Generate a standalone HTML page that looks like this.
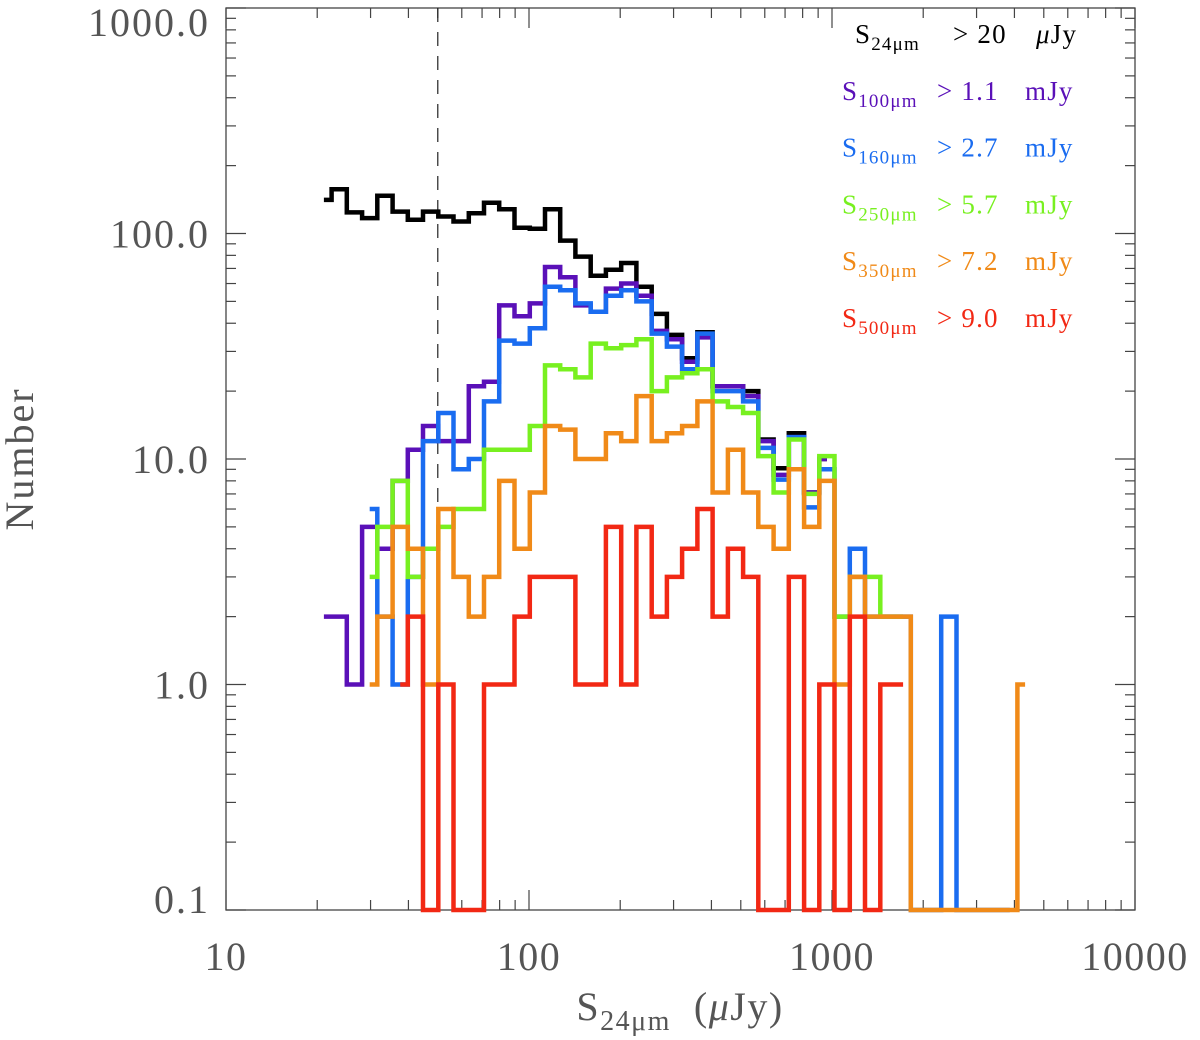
<!DOCTYPE html>
<html><head><meta charset="utf-8">
<style>
html,body{margin:0;padding:0;background:#fff;}
svg{display:block;}
text{font-family:"Liberation Serif",serif;}
</style></head>
<body>
<svg id="chart" width="1200" height="1040" viewBox="0 0 1200 1040" xmlns="http://www.w3.org/2000/svg">
<g id="axes"></g>
<g id="series"></g>
<g id="legend"></g>
</svg>
<script>
// ---- data ----
const binCenters = [21.05,23.64,26.54,29.80,33.46,37.57,42.18,47.36,53.18,59.71,67.04,75.27,84.52,94.90,106.6,119.6,134.3,150.8,169.3,190.1,213.5,239.7,269.1,302.2,339.3,380.9,427.7,480.2,539.2,605.4,679.8,763.3,857.0,962.3,1080,1213,1362,1529,1717,1928,2164,2430,2729,3064,3440,3862,4337];
const blackStart = 0;
const blackValues = [141,157,124,117,147,125,115,125,119,113,123,137,128,106,105,128,93,79,65,69,74,58,44,35.5,28,36.5,21,21,20,12.2,9.1,13,7.1,10];
const purpleStart = 0;
const purpleValues = [2,2,1,5,4,8,11,14,12,12,21,22,48,43,49,71,64,48,45,57,60,53,37,34,27,34.6,21,21,19,12,8.5,12.5,7.1,10];
const blueStart = 3;
const blueValues = [6,2,1,3,12,16,9,10,18,33.5,32.5,38,58,56,49,45,53,56,50,36,31.5,25,36,20,20,18,11.2,8.1,12.5,6.1,9,2,4,2,2,2,0,0,2,0,0,0,0];
const greenStart = 3;
const greenValues = [3,5,8,3,4,5,6,6,11,11,11,14,26,25,23,32.5,31,32,34,20,23,24,25,18,17,16,10.3,7.1,12.2,7,10.3,2,3,3,2,2];
const orangeStart = 3;
const orangeValues = [1,2,5,4,1,6,3,2,3,8,4,7.1,14,13.5,10,10,13,12,19,12,13,14,18,7.1,11,7.1,5,4,9,5,8,1,3,2,2,2,0,0,0,0,0,0,0,1];
const redStart = 5;
const redValues = [1,2,0,1,0,0,1,1,2,3,3,3,1,1,5,1,5,2,3,4,6,2,4,3,0,0,3,0,1,0,2,0,1,1];
const xTickValues = [10,100,1000,10000];
const xTickLabels = ["10","100","1000","10000"];
const yTickValues = [0.1,1,10,100,1000];
const yTickLabels = ["0.1","1.0","10.0","100.0","1000.0"];
const cutValue = 50;

// ---- axes functions ----
const X0=226, X1=1135, Y0=910, Y1=8;
function xs(v){ return X0 + (Math.log10(v)-1)/3*(X1-X0); }
function ys(v){ const vv=Math.max(v,0.1); return Y0 - (Math.log10(vv)+1)/4*(Y0-Y1); }

const NS="http://www.w3.org/2000/svg";
function mk(tag, attrs, parent){ const e=document.createElementNS(NS,tag); for(const k in attrs) e.setAttribute(k,attrs[k]); parent.appendChild(e); return e; }
const axes=document.getElementById('axes');
const frame=mk('rect',{x:X0,y:Y1,width:X1-X0,height:Y0-Y1,fill:'none',stroke:'#444','stroke-width':1.3},axes);



for(let d=1; d<=4; d++){
  for(let m=1; m<=9; m++){
    if(d===4 && m>1) break;
    const v=m*Math.pow(10,d);
    const x=xs(v); const L = m===1?20:10;
    const t1=mk('line',{x1:x,x2:x,y1:Y0,y2:Y0-L,stroke:'#444','stroke-width':1.2},axes);
    
    
    const t2=mk('line',{x1:x,x2:x,y1:Y1,y2:Y1+L,stroke:'#444','stroke-width':1.2},axes);
    
    
  }
}
xTickValues.forEach((v,i)=>{
  const t=mk('text',{x:xs(v),y:970,'text-anchor':'middle','font-size':40,fill:'#555','letter-spacing':1.5},axes);
  t.textContent=xTickLabels[i];
  
  
});
for(let d=-1; d<=3; d++){
  for(let m=1; m<=9; m++){
    if(d===3 && m>1) break;
    const v=m*Math.pow(10,d);
    const y=ys(v); const L = m===1?20:10;
    const t1=mk('line',{x1:X0,x2:X0+L,y1:y,y2:y,stroke:'#444','stroke-width':1.2},axes);
    
    
    const t2=mk('line',{x1:X1,x2:X1-L,y1:y,y2:y,stroke:'#444','stroke-width':1.2},axes);
    
    
  }
}
yTickValues.forEach((v,i)=>{
  let yy = ys(v)+14;
  if(i===yTickValues.length-1) yy = 36;
  if(i===0) yy = 913;
  const t=mk('text',{x:210,y:yy,'text-anchor':'end','font-size':40,fill:'#555','letter-spacing':2},axes);
  t.textContent=yTickLabels[i];
  
  
});
const yt=mk('text',{x:0,y:0,'text-anchor':'middle','font-size':40,fill:'#555','letter-spacing':2,transform:'translate(33,459) rotate(-90)'},axes);
yt.textContent='Number';


const xt=mk('text',{x:680,y:1020,'text-anchor':'middle','font-size':40,fill:'#555','letter-spacing':1.5},axes);
xt.innerHTML='S<tspan font-size="28" dy="10">24μm</tspan><tspan dy="-10" xml:space="preserve">  (<tspan font-style="italic">μ</tspan>Jy)</tspan>';



const cut=mk('line',{x1:xs(cutValue),x2:xs(cutValue),y1:Y1,y2:Y0,stroke:'#222','stroke-width':1.2,'stroke-dasharray':'14,10'},axes);



const series=document.getElementById('series');
function histPath(start, vals){
  let d='';
  for(let k=0;k<vals.length;k++){
    const i=start+k;
    const y=ys(vals[k]);
    if(k===0){ d+='M'+xs(binCenters[i]).toFixed(1)+','+y.toFixed(1); }
    else{
      const mid=Math.sqrt(binCenters[i-1]*binCenters[i]);
      d+=' H'+xs(mid).toFixed(1)+' V'+y.toFixed(1);
    }
    if(k===vals.length-1) d+=' H'+xs(binCenters[i]).toFixed(1);
  }
  return d;
}
function addSeries(name,start,vals,color){
  const p=mk('path',{d:histPath(start,vals),fill:'none',stroke:color,'stroke-width':4.5,'stroke-linejoin':'miter','stroke-linecap':'butt'},series);
  
  
}
addSeries('series-24um',blackStart,blackValues,'#000000');
addSeries('series-100um',purpleStart,purpleValues,'#5a10b8');
addSeries('series-160um',blueStart,blueValues,'#1a6cf0');
addSeries('series-250um',greenStart,greenValues,'#78f020');
addSeries('series-350um',orangeStart,orangeValues,'#f08a18');
addSeries('series-500um',redStart,redValues,'#f22814');
</script>
<script>
const legendWaves=["24μm","100μm","160μm","250μm","350μm","500μm"];
const legendCuts=["> 20","> 1.1","> 2.7","> 5.7","> 7.2","> 9.0"];
const legendColors=['#000000','#5a10b8','#1a6cf0','#78f020','#f08a18','#f22814'];
(function(){
  const lg=document.getElementById('legend');
  const NS="http://www.w3.org/2000/svg";
  for(let i=0;i<6;i++){
    const y=43+i*56.8;
    const g=document.createElementNS(NS,'text');
    g.setAttribute('x', i===0?855:842);
    g.setAttribute('y', y);
    g.setAttribute('font-size','27');
    g.setAttribute('fill', legendColors[i]);
    g.setAttribute('letter-spacing','1.2');
    
    
    const unit = i===0 ? '<tspan font-style="italic">μ</tspan>Jy' : 'mJy';
    const sx = i===0 ? 953 : 937;
    const ux = i===0 ? 1036 : 1025;
    g.innerHTML='S<tspan font-size="19" dy="7">'+legendWaves[i]+'</tspan><tspan x="'+sx+'" dy="-7">'+legendCuts[i]+'</tspan><tspan x="'+ux+'">'+unit+'</tspan>';
    lg.appendChild(g);
  }
})();
</script>
</body></html>
